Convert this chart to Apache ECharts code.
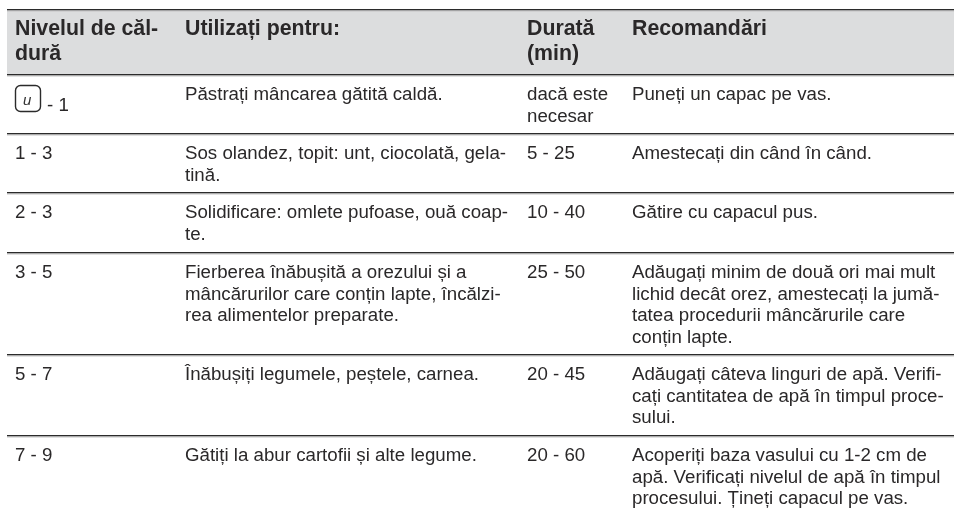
<!DOCTYPE html>
<html>
<head>
<meta charset="utf-8">
<title>Nivelul de căldură</title>
<script src="https://cdn.jsdelivr.net/npm/echarts@6/dist/echarts.min.js"></script>
<style>
    html, body { margin: 0; padding: 0; background: #fff; }
    #chart { width: 954px; height: 512px; }
</style>
</head>
<body>
<div id="chart"></div>
<script>
    // table content, one array per column
    const headers = ['Nivelul de căl-\ndură', 'Utilizați pentru:', 'Durată\n(min)', 'Recomandări'];
    const levels = ['- 1', '1 - 3', '2 - 3', '3 - 5', '5 - 7', '7 - 9'];
    const uses = [
        'Păstrați mâncarea gătită caldă.',
        'Sos olandez, topit: unt, ciocolată, gela-\ntină.',
        'Solidificare: omlete pufoase, ouă coap-\nte.',
        'Fierberea înăbușită a orezului și a\nmâncărurilor care conțin lapte, încălzi-\nrea alimentelor preparate.',
        'Înăbușiți legumele, peștele, carnea.',
        'Gătiți la abur cartofii și alte legume.'
    ];
    const durations = ['dacă este\nnecesar', '5 - 25', '10 - 40', '25 - 50', '20 - 45', '20 - 60'];
    const tips = [
        'Puneți un capac pe vas.',
        'Amestecați din când în când.',
        'Gătire cu capacul pus.',
        'Adăugați minim de două ori mai mult\nlichid decât orez, amestecați la jumă-\ntatea procedurii mâncărurile care\nconțin lapte.',
        'Adăugați câteva linguri de apă. Verifi-\ncați cantitatea de apă în timpul proce-\nsului.',
        'Acoperiți baza vasului cu 1-2 cm de\napă. Verificați nivelul de apă în timpul\nprocesului. Țineți capacul pe vas.'
    ];

    const columnX = [15, 185, 527, 632];
    const ruleY = [75, 134, 193, 253, 355, 436];
    const tableLeft = 7;
    const tableRight = 954;
    const font = 'Liberation Sans, Arial, sans-serif';
    const textColor = '#2a2829';

    function cellText(x, y, text, bold) {
        return {
            type: 'text',
            x: x,
            y: y,
            style: {
                text: text,
                fill: textColor,
                font: (bold ? 'bold 21.3px ' : '18.7px ') + font,
                lineHeight: bold ? 24.5 : 21.67
            }
        };
    }

    function rule(y) {
        return {
            type: 'group',
            children: [
                { type: 'rect', shape: { x: tableLeft, y: y - 1, width: tableRight - tableLeft, height: 1.6 }, style: { fill: '#2b2b2b' } },
                { type: 'rect', shape: { x: tableLeft, y: y + 0.6, width: tableRight - tableLeft, height: 0.8 }, style: { fill: '#c4c4c4' } }
            ]
        };
    }

    const elements = [];

    // header band
    elements.push({ type: 'rect', shape: { x: tableLeft, y: 10, width: tableRight - tableLeft, height: 65 }, style: { fill: '#dcddde' } });
    elements.push(rule(10));
    headers.forEach((h, i) => elements.push(cellText(columnX[i], 17, h, true)));

    // body rows
    ruleY.forEach(y => elements.push(rule(y)));
    levels.forEach((v, r) => {
        const top = ruleY[r] + 9;
        elements.push(cellText(r === 0 ? 47 : columnX[0], r === 0 ? top + 11 : top, v, false));
        elements.push(cellText(columnX[1], top, uses[r], false));
        elements.push(cellText(columnX[2], top, durations[r], false));
        elements.push(cellText(columnX[3], top, tips[r], false));
    });

    // standby symbol in the first row
    elements.push({ type: 'rect', shape: { x: 15.5, y: 85.5, width: 25, height: 26, r: 5 }, style: { fill: '#fff', stroke: '#2b2b2b', lineWidth: 1.4 } });
    elements.push({ type: 'text', x: 23, y: 93, style: { text: 'u', fill: '#333', font: 'italic 15px ' + font } });

    const chart = echarts.init(document.getElementById('chart'), null, { renderer: 'canvas' });
    chart.setOption({
        animation: false,
        backgroundColor: '#fff',
        graphic: { elements: elements }
    });
</script>
</body>
</html>
